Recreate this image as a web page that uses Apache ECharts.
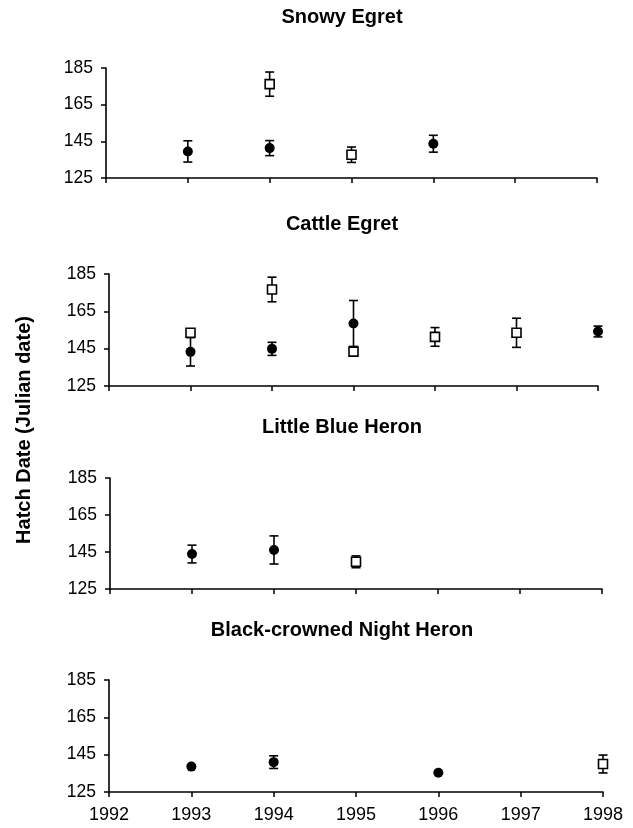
<!DOCTYPE html>
<html>
<head>
<meta charset="utf-8">
<script src="https://cdn.jsdelivr.net/npm/echarts@6/dist/echarts.min.js"></script>
<style>
html,body{margin:0;padding:0;background:#fff;}
#c{width:633px;height:828px;}
</style>
</head>
<body>
<div id="c"></div>
<script>
// ---- data (year, mean hatch date, error) ----
const yearTicks = [1992, 1993, 1994, 1995, 1996, 1997, 1998];
const yTicks = [125, 145, 165, 185];
const panelTitles = ['Snowy Egret', 'Cattle Egret', 'Little Blue Heron', 'Black-crowned Night Heron'];
const yAxisTitle = 'Hatch Date (Julian date)';

const snowyFilled = [[1993, 139.5, 5.8], [1994, 141.3, 4.1], [1996, 143.7, 4.6]];
const snowyOpen = [[1994, 176.2, 6.6], [1995, 137.7, 4.2]];

const cattleFilled = [[1993, 143.3, 7.6], [1994, 144.9, 3.5], [1995, 158.5, 12.3], [1998, 154.2, 2.9]];
const cattleOpen = [[1993, 153.5, 0], [1994, 176.7, 6.6], [1995, 143.4, 0], [1996, 151.3, 5.0], [1997, 153.5, 7.8]];

const blueFilled = [[1993, 143.9, 4.8], [1994, 146.1, 7.6]];
const blueOpen = [[1995, 139.7, 3.2]];

const nightFilled = [[1993, 138.6, 0], [1994, 141.0, 3.4], [1996, 135.3, 0]];
const nightOpen = [[1998, 140.0, 4.8]];

const panels = [
  { filled: snowyFilled, open: snowyOpen },
  { filled: cattleFilled, open: cattleOpen },
  { filled: blueFilled, open: blueOpen },
  { filled: nightFilled, open: nightOpen }
];

// ---- layout ----
const FONT = "'Liberation Sans', Arial, sans-serif";
const grids = [
  { left: 106, top: 68, width: 491, height: 110 },
  { left: 109, top: 274, width: 489, height: 112 },
  { left: 110, top: 478, width: 492, height: 111 },
  { left: 109, top: 680, width: 494, height: 112 }
];
const titleY = [17, 224, 427, 630];

const chart = echarts.init(document.getElementById('c'), null, { renderer: 'canvas' });

function errorRender(params, api) {
  const x = api.value(0), y = api.value(1), e = api.value(2);
  if (!e) return null;
  const top = api.coord([x, y + e]);
  const bot = api.coord([x, y - e]);
  const hw = 4.5;
  const st = { stroke: '#000', lineWidth: 1.6 };
  return {
    type: 'group',
    children: [
      { type: 'line', shape: { x1: top[0], y1: top[1], x2: bot[0], y2: bot[1] }, style: st },
      { type: 'line', shape: { x1: top[0] - hw, y1: top[1], x2: top[0] + hw, y2: top[1] }, style: st },
      { type: 'line', shape: { x1: bot[0] - hw, y1: bot[1], x2: bot[0] + hw, y2: bot[1] }, style: st }
    ]
  };
}

const xAxes = [], yAxes = [], series = [], graphics = [];
panels.forEach((p, i) => {
  const last = i === panels.length - 1;
  xAxes.push({
    type: 'value', gridIndex: i,
    min: yearTicks[0], max: yearTicks[yearTicks.length - 1], interval: 1,
    splitLine: { show: false },
    axisLine: { show: true, onZero: false, lineStyle: { color: '#000', width: 1.6 } },
    axisTick: { show: true, inside: false, length: 5, lineStyle: { color: '#000', width: 1.5 } },
    axisLabel: {
      show: last, color: '#000', fontFamily: FONT, fontSize: 18, margin: 14,
      formatter: v => String(yearTicks.find(t => t === v) ?? '')
    }
  });
  yAxes.push({
    type: 'value', gridIndex: i,
    min: yTicks[0], max: yTicks[yTicks.length - 1], interval: 20,
    splitLine: { show: false },
    axisLine: { show: true, onZero: false, lineStyle: { color: '#000', width: 1.6 } },
    axisTick: { show: true, inside: false, length: 5, lineStyle: { color: '#000', width: 1.5 } },
    axisLabel: { color: '#000', fontFamily: FONT, fontSize: 17.5, margin: 13 }
  });
  const all = p.filled.concat(p.open);
  series.push({
    type: 'custom', xAxisIndex: i, yAxisIndex: i, z: 2,
    renderItem: errorRender, encode: { x: 0, y: 1 }, data: all, silent: true
  });
  series.push({
    type: 'scatter', xAxisIndex: i, yAxisIndex: i, z: 3,
    symbol: 'circle', symbolSize: 10, encode: { x: 0, y: 1 },
    itemStyle: { color: '#000', opacity: 1 }, data: p.filled
  });
  series.push({
    type: 'scatter', xAxisIndex: i, yAxisIndex: i, z: 4,
    symbol: 'rect', symbolSize: [9, 9], encode: { x: 0, y: 1 },
    itemStyle: { color: '#fff', borderColor: '#000', borderWidth: 1.6, opacity: 1 }, data: p.open
  });
  graphics.push({
    type: 'text', x: 342, y: titleY[i],
    style: {
      text: panelTitles[i], fill: '#000', font: 'bold 20px ' + FONT,
      textAlign: 'center', textVerticalAlign: 'middle'
    }
  });
});

graphics.push({
  type: 'text', x: 24, y: 430, rotation: Math.PI / 2,
  style: {
    text: yAxisTitle, fill: '#000', font: 'bold 20px ' + FONT,
    textAlign: 'center', textVerticalAlign: 'middle'
  }
});

chart.setOption({
  animation: false,
  backgroundColor: '#fff',
  grid: grids.map(g => Object.assign({ containLabel: false }, g)),
  xAxis: xAxes,
  yAxis: yAxes,
  series: series,
  graphic: graphics
});
</script>
</body>
</html>
